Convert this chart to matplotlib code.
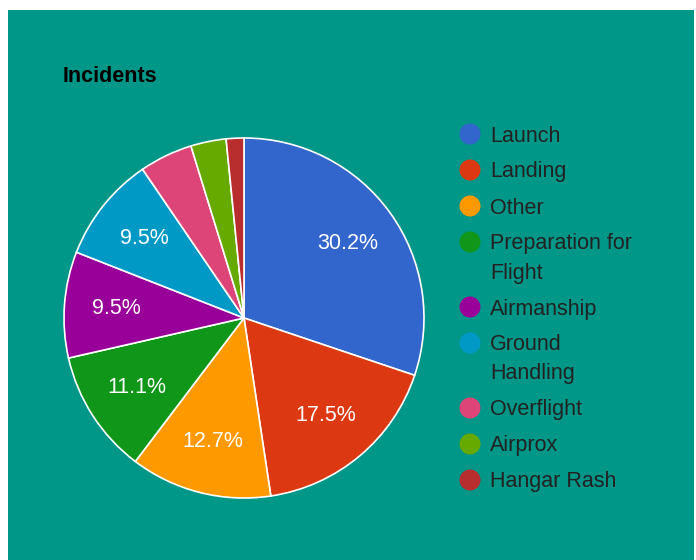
import matplotlib.pyplot as plt
from matplotlib.patches import Rectangle, Circle

plt.rcParams['font.family'] = ['Liberation Sans', 'DejaVu Sans']

categories = ['Launch', 'Landing', 'Other', 'Preparation for\nFlight', 'Airmanship',
              'Ground\nHandling', 'Overflight', 'Airprox', 'Hangar Rash']
counts = [19, 11, 8, 7, 6, 6, 3, 2, 1]
colors = ['#3366cc', '#dc3912', '#ff9900', '#109618', '#990099',
          '#0099c6', '#dd4477', '#66aa00', '#b82e2e']

W, H = 696, 560
fig = plt.figure(figsize=(W / 100, H / 100), dpi=100, facecolor='white')

# teal panel
fig.patches.append(Rectangle((8 / W, 0), (694 - 8) / W, (H - 10) / H,
                             transform=fig.transFigure, facecolor='#009688',
                             edgecolor='none', zorder=-5))

cx, cy, r = 244, 318, 180
ax = fig.add_axes([(cx - r) / W, (H - cy - r) / H, 2 * r / W, 2 * r / H])
ax.set_facecolor('none')
ax.set_zorder(2)


def pct(p):
    return f'{p:.1f}%' if p > 6 else ''


wedges, texts, autotexts = ax.pie(counts, colors=colors, startangle=90, counterclock=False,
                                  autopct=pct, pctdistance=0.71,
                                  wedgeprops=dict(edgecolor='white', linewidth=1.2),
                                  textprops=dict(color='white', fontsize=15.5))
ax.set_xlim(-1, 1)
ax.set_ylim(-1, 1)

fig.text(63 / W, 1 - 77 / H, 'Incidents', fontsize=15.5, fontweight='bold',
         color='black', va='center', ha='left')

# legend
y = 134
for lab, col in zip(categories, colors):
    fig.patches.append(Circle((470, H - y), 10.5, transform=None,
                              facecolor=col, edgecolor='none'))
    lines = lab.split('\n')
    for k, line in enumerate(lines):
        fig.text(490 / W, 1 - (y + 2 + 29 * k) / H, line, fontsize=15.5,
                 color='#222222', va='center', ha='left')
    y += 36 + 29 * (len(lines) - 1)

fig.savefig('out.png', dpi=100, facecolor='white')
